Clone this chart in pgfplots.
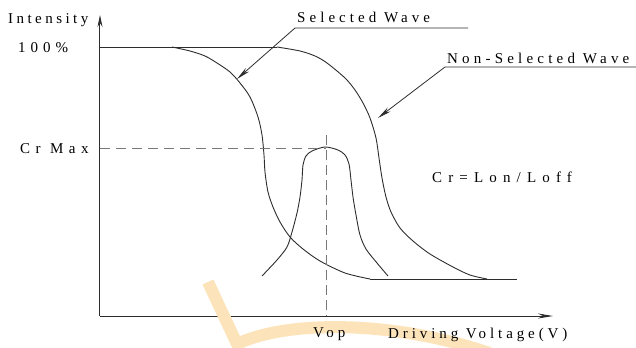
\documentclass[border=0pt]{standalone}
\usepackage{fontspec}
\setmainfont{Liberation Serif}
\usepackage{pgfplots}
\pgfplotsset{compat=1.18}
\usetikzlibrary{arrows.meta}
\definecolor{ink}{RGB}{45,45,45}
\definecolor{dashgray}{RGB}{120,120,120}
\definecolor{wmark}{RGB}{252,227,185}
\newcommand\lbl[1]{\fontsize{15bp}{18bp}\selectfont\addfontfeatures{LetterSpace=#1}}

% curves, in picture units (1 = 1bp), y counted from the bottom
\pgfplotstableread{
x y
172 300
190 296
205 291
217 284
230 275
240 264
250 250
258 230
262 212
264 192
265 175
268 155
273 140
280 125
290 110
303 98
320 86
345 74
370 68
}\selwave
\pgfplotstableread{
x y
277 300
300 296
315 291
327 284
345 269
355 257
363 244
370 229
376 209
379 189
382 169
386 150
391 135
400 119
413 106
430 93
453 80
470 72
487 68
}\nonselwave
\pgfplotstableread{
x y
262 71
277 87
287 100
292 115
297 134
300 150
302 167
303 182
306 191
312 196
325 200
338 197
345 192
349 183
351 167
353 150
356 132
360 112
366 98
377 84
388 71
}\contrast

\begin{document}
\begin{tikzpicture}
\begin{axis}[
    x=1bp, y=1bp,
    xmin=100, xmax=553, ymin=31, ymax=332,
    axis lines=left,
    xtick=\empty, ytick=\empty,
    clip=false,
    axis line style={ink, line width=1bp},
    x axis line style={-{Stealth[length=15bp,width=5bp]}},
    y axis line style={-{Stealth[length=12bp,width=5bp]}},
  ]
  % watermark
  \draw[wmark, line width=12bp, line join=round]
    (axis cs:208,65) -- (axis cs:237,3)
    .. controls (axis cs:290,28) and (axis cs:400,26) .. (axis cs:495,-8);

  % flat parts
  \addplot[ink, line width=0.9bp] coordinates {(100,300) (277,300)};
  \addplot[ink, line width=0.9bp] coordinates {(370,68) (517,68)};
  % waves
  \addplot[ink, line width=0.9bp, smooth, tension=0.5] table {\selwave};
  \addplot[ink, line width=0.9bp, smooth, tension=0.5] table {\nonselwave};
  \addplot[ink, line width=0.9bp, smooth, tension=0.5] table {\contrast};
  % Cr max and Vop guides
  \addplot[dashgray, line width=1bp, dash pattern=on 10bp off 6bp] coordinates {(100,199) (326,199)};
  \addplot[dashgray, line width=1bp, dash pattern=on 10bp off 5bp] coordinates {(326,212) (326,31)};

  % leaders
  \draw[ink, line width=0.8bp, -{Stealth[length=14bp,width=5bp]}]
    (axis cs:468,319) -- (axis cs:295,319) -- (axis cs:237,268);
  \draw[ink, line width=0.8bp, -{Stealth[length=14bp,width=5bp]}]
    (axis cs:636,280) -- (axis cs:445,280) -- (axis cs:378,229);

  % texts
  \node[anchor=base west, inner sep=0, font=\lbl{23}] at (axis cs:8,324) {Intensity};
  \node[anchor=base west, inner sep=0, font=\lbl{33}] at (axis cs:18,295) {100\%};
  \node[anchor=base west, inner sep=0, font=\lbl{37}] at (axis cs:20,194) {Cr Max};
  \node[anchor=base west, inner sep=0, font=\lbl{27}] at (axis cs:297,325) {Selected Wave};
  \node[anchor=base west, inner sep=0, font=\lbl{28}] at (axis cs:447,284) {Non-Selected Wave};
  \node[anchor=base west, inner sep=0, font=\lbl{41}] at (axis cs:432,165) {Cr=Lon/Loff};
  \node[anchor=base west, inner sep=0, font=\lbl{28}] at (axis cs:313,10) {Vop};
  \node[anchor=base west, inner sep=0, font=\lbl{26}] at (axis cs:388,9) {Driving Voltage(V)};

  \coordinate (bl) at (axis cs:0,0);
  \coordinate (tr) at (axis cs:636,347);
\end{axis}
\pgfresetboundingbox
\path (bl) rectangle (tr);
\end{tikzpicture}
\end{document}
